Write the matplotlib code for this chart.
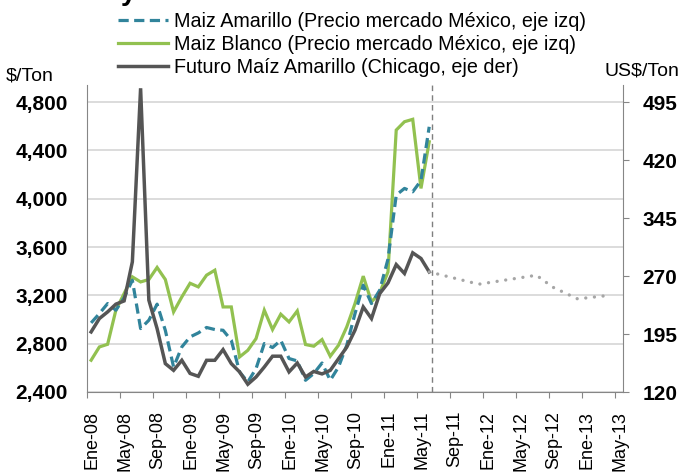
import matplotlib
matplotlib.use('Agg')
import matplotlib.pyplot as plt
import matplotlib.transforms as mtrans
import numpy as np

plt.rcParams['font.family'] = ['Liberation Sans', 'DejaVu Sans']

# ---- data (monthly, Ene-08 .. Jun-11) ----
month_index = list(range(42))
maiz_amarillo = [2972, 3049, 3132, 3077, 3180, 3325, 2925, 2994, 3127, 2910,
                 2607, 2773, 2856, 2889, 2934, 2917, 2911, 2828, 2566, 2483,
                 2594, 2801, 2768, 2828, 2677, 2657, 2497, 2553, 2640, 2497,
                 2607, 2787, 3049, 3284, 3132, 3243, 3500, 4030, 4085, 4057,
                 4150, 4595]
maiz_blanco = [2663, 2773, 2795, 3077, 3215, 3353, 3311, 3331, 3431, 3331,
               3063, 3187, 3300, 3270, 3367, 3408, 3104, 3104, 2690, 2745,
               2842, 3077, 2917, 3044, 2980, 3071, 2793, 2779, 2834, 2696,
               2787, 2939, 3132, 3359, 3146, 3220, 3394, 4568, 4637, 4657,
               4085, 4471]
futuro_chicago = [197.7, 215.0, 223.6, 233.6, 237.8, 288.3, 512.8, 238.8, 202.0, 156.7,
                  148.0, 161.0, 144.0, 140.3, 161.0, 161.0, 174.8, 156.7, 146.0, 130.0,
                  139.4, 152.3, 166.3, 166.3, 146.0, 157.5, 139.4, 146.6, 143.4, 148.0,
                  163.0, 178.0, 200.0, 230.0, 215.0, 247.3, 261.0, 284.8, 273.3, 300.0,
                  292.7, 275.3]
forecast_months = [41, 47, 54, 56, 59, 63]
forecast_values = [275.3, 259.4, 271.0, 255.5, 240.4, 245.2]

tick_months = list(range(0, 65, 4))
tick_labels = ['Ene-08', 'May-08', 'Sep-08', 'Ene-09', 'May-09', 'Sep-09',
               'Ene-10', 'May-10', 'Sep-10', 'Ene-11', 'May-11', 'Sep-11',
               'Ene-12', 'May-12', 'Sep-12', 'Ene-13', 'May-13']
left_ticks = [2400, 2800, 3200, 3600, 4000, 4400, 4800]
right_ticks = [120, 195, 270, 345, 420, 495]

legend_labels = ['Maiz Amarillo (Precio mercado México, eje izq)',
                 'Maiz Blanco (Precio mercado México, eje izq)',
                 'Futuro Maíz Amarillo (Chicago, eje der)']

# ---- styles ----
C_BLUE = '#31849B'
C_GREEN = '#92C150'
C_DARK = '#555555'
C_DOT = '#A6A6A6'
C_AXIS = '#868686'
C_GRID = '#D9D9D9'

W, H = 686, 473
fig = plt.figure(figsize=(W / 100, H / 100), dpi=100)
ax = fig.add_axes([87 / W, 1 - 392 / H, (623 - 87) / W, (392 - 85) / H])
ax2 = ax.twinx()

x = np.array(month_index) + 0.5
xf = np.array(forecast_months) + 0.5

ymin_l, ymax_l = 2400, 4941
ax.set_ylim(ymin_l, ymax_l)
ax2.set_ylim(120, 120 + (ymax_l - ymin_l) * 0.15625)
ax.set_xlim(0, 65)

ax.set_yticks(left_ticks)
ax.set_yticklabels([f'{v:,}' for v in left_ticks])
ax2.set_yticks(right_ticks)
ax.grid(axis='y', color=C_GRID, lw=1.3)
ax.set_axisbelow(True)

l_green, = ax.plot(x, maiz_blanco, color=C_GREEN, lw=2.3, solid_joinstyle='miter')
l_blue, = ax.plot(x, maiz_amarillo, color=C_BLUE, lw=2.3, ls=(0, (3.2, 1.7)))
ax.axvline(41.8, color='#7F7F7F', lw=1.0, ls=(0, (4, 3)))
l_dark, = ax2.plot(x, futuro_chicago, color=C_DARK, lw=2.5, solid_joinstyle='miter')
ax2.plot(xf, forecast_values, color=C_DOT, lw=2.4, ls=(0, (0.01, 2.6)),
         dash_capstyle='round')

for a in (ax, ax2):
    a.spines['top'].set_visible(False)
    for s in ('left', 'right', 'bottom'):
        a.spines[s].set_color(C_AXIS)
ax.spines['right'].set_visible(False)
ax2.spines['left'].set_visible(False)
ax2.spines['bottom'].set_visible(False)

ax.set_xticks(tick_months)
ax.set_xticklabels(tick_labels, rotation=90, fontsize=13)
ax.tick_params(axis='x', direction='out', length=4, color=C_AXIS, pad=9.5)
ax.tick_params(axis='y', length=0, pad=14, labelsize=15)
ax2.tick_params(axis='y', direction='out', length=4, color=C_AXIS, pad=10, labelsize=15)
for t in ax.get_yticklabels() + ax2.get_yticklabels():
    t.set_fontweight('bold')
shift = mtrans.ScaledTranslation(5 / 100, 0, fig.dpi_scale_trans)
for t in ax.get_xticklabels():
    t.set_transform(t.get_transform() + shift)

fig.legend([l_blue, l_green, l_dark], legend_labels, loc='upper left',
           bbox_to_anchor=(118 / W, 1 - 12 / H), frameon=False, fontsize=14.2,
           handlelength=2.55, handletextpad=0.3, labelspacing=0.2,
           borderaxespad=0, borderpad=0)

fig.text(6 / W, 1 - 76 / H, '$/Ton', fontsize=14, va='center', ha='left')
fig.text(605 / W, 1 - 71 / H, 'US$/Ton', fontsize=14, va='center', ha='left')
fig.text(121 / W, 1.0, 'y', fontsize=20, fontweight='bold', va='baseline', ha='left')

fig.savefig('out.png', dpi=100)
